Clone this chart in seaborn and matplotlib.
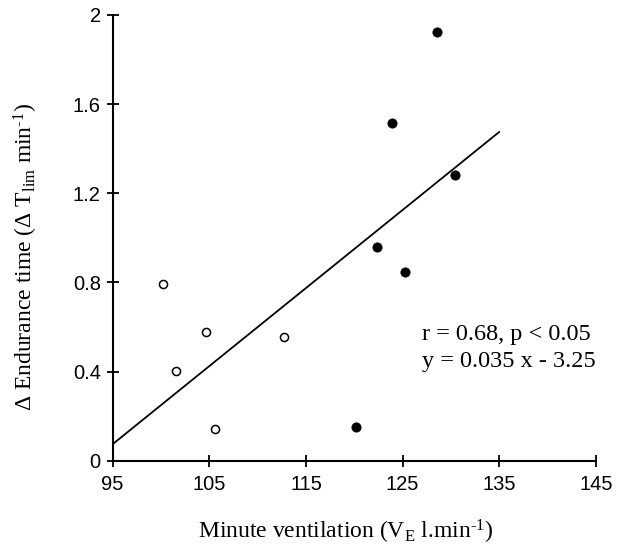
import matplotlib
matplotlib.use("Agg")
import matplotlib.pyplot as plt
import seaborn as sns
import numpy as np
import pandas as pd

# Data
open_x = [100.2, 101.6, 104.7, 105.6, 112.7]
open_y = [0.795, 0.402, 0.580, 0.143, 0.556]
filled_x = [128.6, 123.9, 130.4, 122.3, 125.2, 120.2]
filled_y = [1.925, 1.514, 1.283, 0.961, 0.845, 0.151]
fit_slope = 0.035
fit_intercept = -3.25
fit_range = [95, 135]
x_ticks = [95, 105, 115, 125, 135, 145]
y_ticks = [0, 0.4, 0.8, 1.2, 1.6, 2]
y_tick_labels = ["0", "0.4", "0.8", "1.2", "1.6", "2"]

sns.set_theme(style="white")
plt.rcParams["font.family"] = ["Liberation Sans", "DejaVu Sans"]
plt.rcParams["mathtext.fontset"] = "custom"
plt.rcParams["mathtext.rm"] = "Liberation Serif"
plt.rcParams["mathtext.it"] = "Liberation Serif:italic"

fig = plt.figure(figsize=(6.26, 5.48), dpi=100)
ax = fig.add_axes([0.180, 0.159, 0.772, 0.814])

df_open = pd.DataFrame({"x": open_x, "y": open_y})
df_filled = pd.DataFrame({"x": filled_x, "y": filled_y})

fx = np.array(fit_range, dtype=float)
fy = fit_slope * fx + fit_intercept
sns.lineplot(x=fx, y=fy, ax=ax, color="black", linewidth=1.3)

sns.scatterplot(data=df_open, x="x", y="y", ax=ax, s=34, facecolor="white",
                edgecolor="black", linewidth=1.1, zorder=3)
sns.scatterplot(data=df_filled, x="x", y="y", ax=ax, s=45, color="black",
                edgecolor="black", linewidth=0.5, zorder=3)

ax.set_xlim(95, 145)
ax.set_ylim(0, 2)
ax.set_xticks(x_ticks)
ax.set_yticks(y_ticks)
ax.set_yticklabels(y_tick_labels)

for side in ["top", "right"]:
    ax.spines[side].set_visible(False)
for side in ["left", "bottom"]:
    ax.spines[side].set_linewidth(1.5)
    ax.spines[side].set_color("black")

ax.tick_params(axis="both", direction="inout", length=9, width=1.3,
               colors="black", labelsize=14.5, bottom=True, left=True)
ax.tick_params(axis="x", pad=6)
ax.tick_params(axis="y", pad=4)

ax.set_xlabel(r"Minute ventilation (V$_{\rm E}$ l.min$^{\text{-1}}$)",
              family="Liberation Serif", fontsize=17, color="black")
ax.set_ylabel("Δ Endurance time (Δ T$_{\\rm lim}$ min$^{\\text{-1}}$)",
              family="Liberation Serif", fontsize=17, color="black")
ax.xaxis.set_label_coords(0.483, -0.128)
ax.yaxis.set_label_coords(-0.150, 0.457)

ax.text(127.0, 0.565, "r = 0.68, p < 0.05", family="Liberation Serif",
        fontsize=17.5, color="black", va="center", ha="left")
ax.text(127.0, 0.445, "y = 0.035 x - 3.25", family="Liberation Serif",
        fontsize=17.5, color="black", va="center", ha="left")

ax.grid(False)
fig.savefig("out.png", dpi=100, facecolor="white")
